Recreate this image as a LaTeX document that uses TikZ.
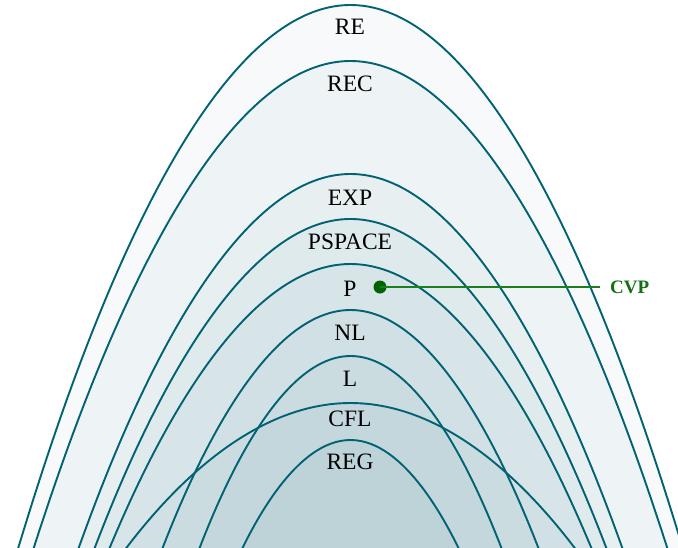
\documentclass[tikz,border=0pt]{standalone}
\usepackage{fontspec}
\setmainfont{Liberation Serif}
\definecolor{edge}{RGB}{0,98,114}
\definecolor{shade}{RGB}{40,112,128}
\definecolor{cvpgreen}{RGB}{0,100,0}
\definecolor{cvptext}{RGB}{20,112,20}
\definecolor{cvpline}{RGB}{30,125,30}
\newcommand\archpath[2]{({350.5-#2},552) parabola bend (350.5,#1) ({350.5+#2},552) -- cycle}
\begin{document}
\begin{tikzpicture}[x=1pt,y=-1pt,
  archfill/.style={fill=shade,fill opacity=0.04,draw=none},
  archline/.style={draw=edge,line width=1.9pt},
  lbl/.style={font=\fontsize{23.5}{28}\selectfont,text=black,inner sep=0pt},
  cvplbl/.style={font=\fontsize{19}{23}\selectfont\bfseries,text=cvptext,inner sep=0pt,anchor=west},
  cvpdotstyle/.style={circle,fill=cvpgreen,inner sep=0pt,minimum size=13pt}]
\useasboundingbox (0,0) rectangle (678,547);
\clip (0,0) rectangle (678,547);
% fills
\foreach \t/\w in {5/333.5,61/318.1,174/273.3,219/257.4,264/242.6,310/189.5,356/152.5,403/227.3,440/110.0}{
  \path[archfill] \archpath{\t}{\w};
}
% outlines
\foreach \t/\w in {5/333.5,61/318.1,174/273.3,219/257.4,264/242.6,310/189.5,356/152.5,403/227.3,440/110.0}{
  \draw[archline] ({350.5-\w},552) parabola bend (350.5,\t) ({350.5+\w},552);
}
% labels
\node[lbl] (re) at (350,27) {RE};
\node[lbl] (rec) at (350,84) {REC};
\node[lbl] (exp) at (350,197.5) {EXP};
\node[lbl] (pspace) at (350,242) {PSPACE};
\node[lbl] (p) at (350,288.5) {P};
\node[lbl] (nl) at (350,333) {NL};
\node[lbl] (l) at (350,378.5) {L};
\node[lbl] (cfl) at (350,418.5) {CFL};
\node[lbl] (reg) at (350,462) {REG};
% CVP
\node[cvpdotstyle] (cvpdot) at (380,287) {};
\node[cvplbl] (cvp) at (610,287) {CVP};
\coordinate (cvpend) at (600,287);
\draw[cvpline,line width=1.6pt] (cvpdot.center) -- (cvpend);
\end{tikzpicture}
\end{document}
